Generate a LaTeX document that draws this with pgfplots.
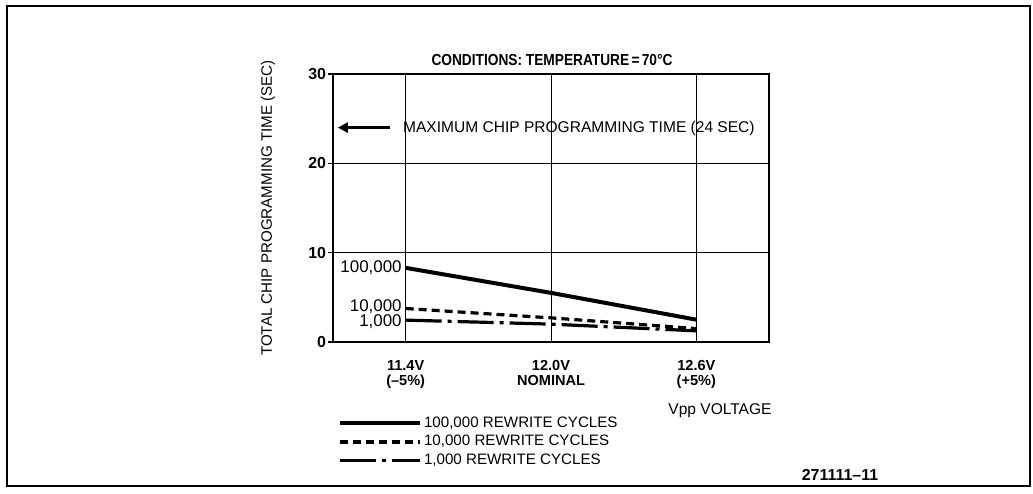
\documentclass[border=0pt]{standalone}
\usepackage{pgfplots}
\pgfplotsset{compat=1.18}
\usepackage{fontspec}
\setmainfont{Liberation Sans}
\usetikzlibrary{arrows.meta}

\begin{document}
\begin{tikzpicture}
\useasboundingbox (0,0) rectangle (516.5bp,247bp);
\draw[line width=1bp] (3.5bp,4bp) rectangle (515bp,244bp);
\begin{axis}[
  at={(166.5bp,76bp)}, anchor=south west,
  scale only axis, width=218bp, height=134bp,
  xmin=11.1, xmax=12.9, ymin=0, ymax=30,
  xtick={11.4,12.0,12.6},
  xticklabels={11.4V\\(--5\%),12.0V\\NOMINAL,12.6V\\(+5\%)},
  xticklabel style={align=center, inner sep=0pt, anchor=north, yshift=-6.5bp,
    font=\bfseries\fontsize{7.3}{7.6}\selectfont},
  ytick={0,10,20,30}, yticklabels={0,10,20,30},
  yticklabel style={font=\bfseries\fontsize{8}{9}\selectfont, inner sep=0pt, xshift=-0.8bp},
  /pgf/number format/assume math mode=true,
  grid=major, major grid style={line width=0.5bp, black},
  axis line style={line width=1bp},
  tick align=outside, tick pos=left,
  xtick style={draw=none},
  ytick style={line width=0.7bp, black},
  major tick length=2.5bp,
  clip=false,
  ylabel={TOTAL CHIP PROGRAMMING TIME (SEC)},
  ylabel style={at={(axis description cs:-0.149,0.5)}, anchor=center,
    font=\fontsize{7.6}{9}\selectfont},
  legend cell align=left,
  legend image code/.code={\draw[#1] (0bp,0bp) -- (40bp,0bp);},
  legend style={at={(axis description cs:0.0115,-0.278)}, anchor=north west,
    draw=none, fill=none, inner sep=0pt, outer sep=0pt,
    row sep=2.6bp, column sep=1bp,
    font=\fontsize{7.6}{8}\selectfont, nodes={inner sep=0pt}},
]
\addplot[black, line width=2bp] coordinates {(11.4,8.3) (12.0,5.5) (12.6,2.5)};
\addlegendentry{100,000 REWRITE CYCLES}
\addplot[black, line width=1.6bp, dash pattern=on 4bp off 2.5bp] coordinates {(11.4,3.75) (12.0,2.7) (12.6,1.5)};
\addlegendentry{10,000 REWRITE CYCLES}
\addplot[black, line width=1.6bp, dash pattern=on 18bp off 3bp on 2bp off 3bp] coordinates {(11.4,2.45) (12.0,2.0) (12.6,1.25)};
\addlegendentry{1,000 REWRITE CYCLES}

\draw[line width=1.3bp, -{Triangle[length=5bp,width=5bp]}] (axis cs:11.334,24) -- (axis cs:11.12,24);
\node[anchor=west, inner sep=0pt, font=\fontsize{7.8}{9}\selectfont] at (axis cs:11.388,23.9) {MAXIMUM CHIP PROGRAMMING TIME (24 SEC)};
\node[anchor=east, inner sep=0pt, font=\fontsize{8.5}{9}\selectfont] at (axis cs:11.385,8.3) {100,000};
\node[anchor=east, inner sep=0pt, font=\fontsize{8.5}{9}\selectfont] at (axis cs:11.385,3.92) {10,000};
\node[anchor=east, inner sep=0pt, font=\fontsize{8.5}{9}\selectfont] at (axis cs:11.385,2.24) {1,000};
\end{axis}
\node[inner sep=0pt] at (276bp,217bp) {\scalebox{0.86}[1]{\bfseries\fontsize{8}{9}\selectfont CONDITIONS: TEMPERATURE\,=\,70\textdegree C}};
\node[inner sep=0pt, font=\fontsize{7.8}{9}\selectfont] at (360bp,41.5bp) {Vpp VOLTAGE};
\node[inner sep=0pt, font=\bfseries\fontsize{8}{9}\selectfont] at (420bp,9.5bp) {271111--11};
\end{tikzpicture}
\end{document}
